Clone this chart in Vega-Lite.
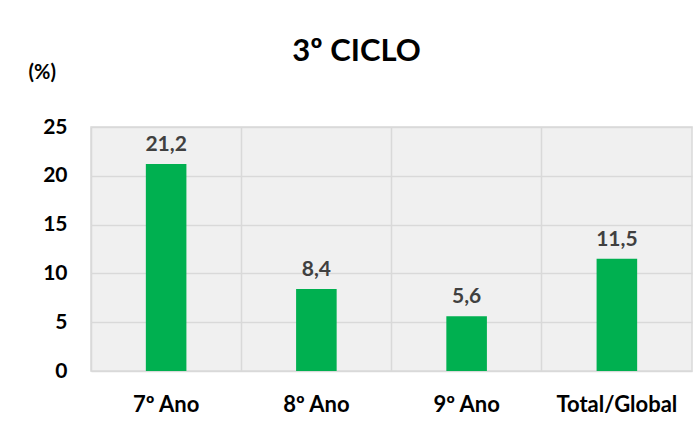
{
  "$schema": "https://vega.github.io/schema/vega-lite/v6.json",
  "width": 601,
  "height": 244,
  "autosize": {"type": "none"},
  "padding": {"left": 91, "top": 127, "right": 7, "bottom": 68},
  "background": "white",
  "config": {
    "locale": {"number": {"decimal": ",", "thousands": ".", "grouping": [3], "currency": ["", " €"]}},
    "view": {"fill": "#f0f0f0", "stroke": "#d9d9d9", "strokeWidth": 1.5},
    "font": "Lato"
  },
  "title": {
    "text": "3º CICLO",
    "fontSize": 31,
    "fontWeight": "bold",
    "font": "Lato",
    "color": "#000000",
    "anchor": "middle",
    "baseline": "alphabetic",
    "dx": -35,
    "offset": -30
  },
  "data": {
    "values": [
      {"categoria": "7º Ano", "valor": 21.2},
      {"categoria": "8º Ano", "valor": 8.4},
      {"categoria": "9º Ano", "valor": 5.6},
      {"categoria": "Total/Global", "valor": 11.5}
    ]
  },
  "encoding": {
    "x": {
      "field": "categoria",
      "type": "nominal",
      "sort": null,
      "scale": {"paddingInner": 0, "paddingOuter": 0},
      "axis": {
        "title": null,
        "labelAngle": 0,
        "labelFontSize": 22,
        "labelFontWeight": "bold",
        "labelColor": "#000000",
        "labelBaseline": "middle",
        "labelPadding": 33,
        "domain": false,
        "ticks": false,
        "grid": true,
        "bandPosition": 0,
        "gridColor": "#d9d9d9",
        "gridWidth": 1.5
      }
    },
    "y": {
      "field": "valor",
      "type": "quantitative",
      "scale": {"domain": [0, 25]},
      "axis": {
        "title": "(%)",
        "titleAngle": 0,
        "titleAlign": "left",
        "titleBaseline": "middle",
        "titleX": -63,
        "titleY": -55,
        "titleFontSize": 20,
        "titleFontWeight": "bold",
        "titleColor": "#000000",
        "values": [0, 5, 10, 15, 20, 25],
        "labelFontSize": 21,
        "labelFontWeight": "bold",
        "labelColor": "#000000",
        "labelPadding": 24,
        "domain": false,
        "ticks": false,
        "grid": true,
        "gridColor": "#d9d9d9",
        "gridWidth": 1.5
      }
    }
  },
  "layer": [
    {
      "mark": {"type": "bar", "color": "#00B050", "width": {"band": 0.27}}
    },
    {
      "mark": {"type": "text", "dy": -13, "fontSize": 21, "fontWeight": "bold", "color": "#404040", "baseline": "alphabetic"},
      "encoding": {"text": {"field": "valor", "type": "quantitative", "format": ".1f"}}
    }
  ]
}
